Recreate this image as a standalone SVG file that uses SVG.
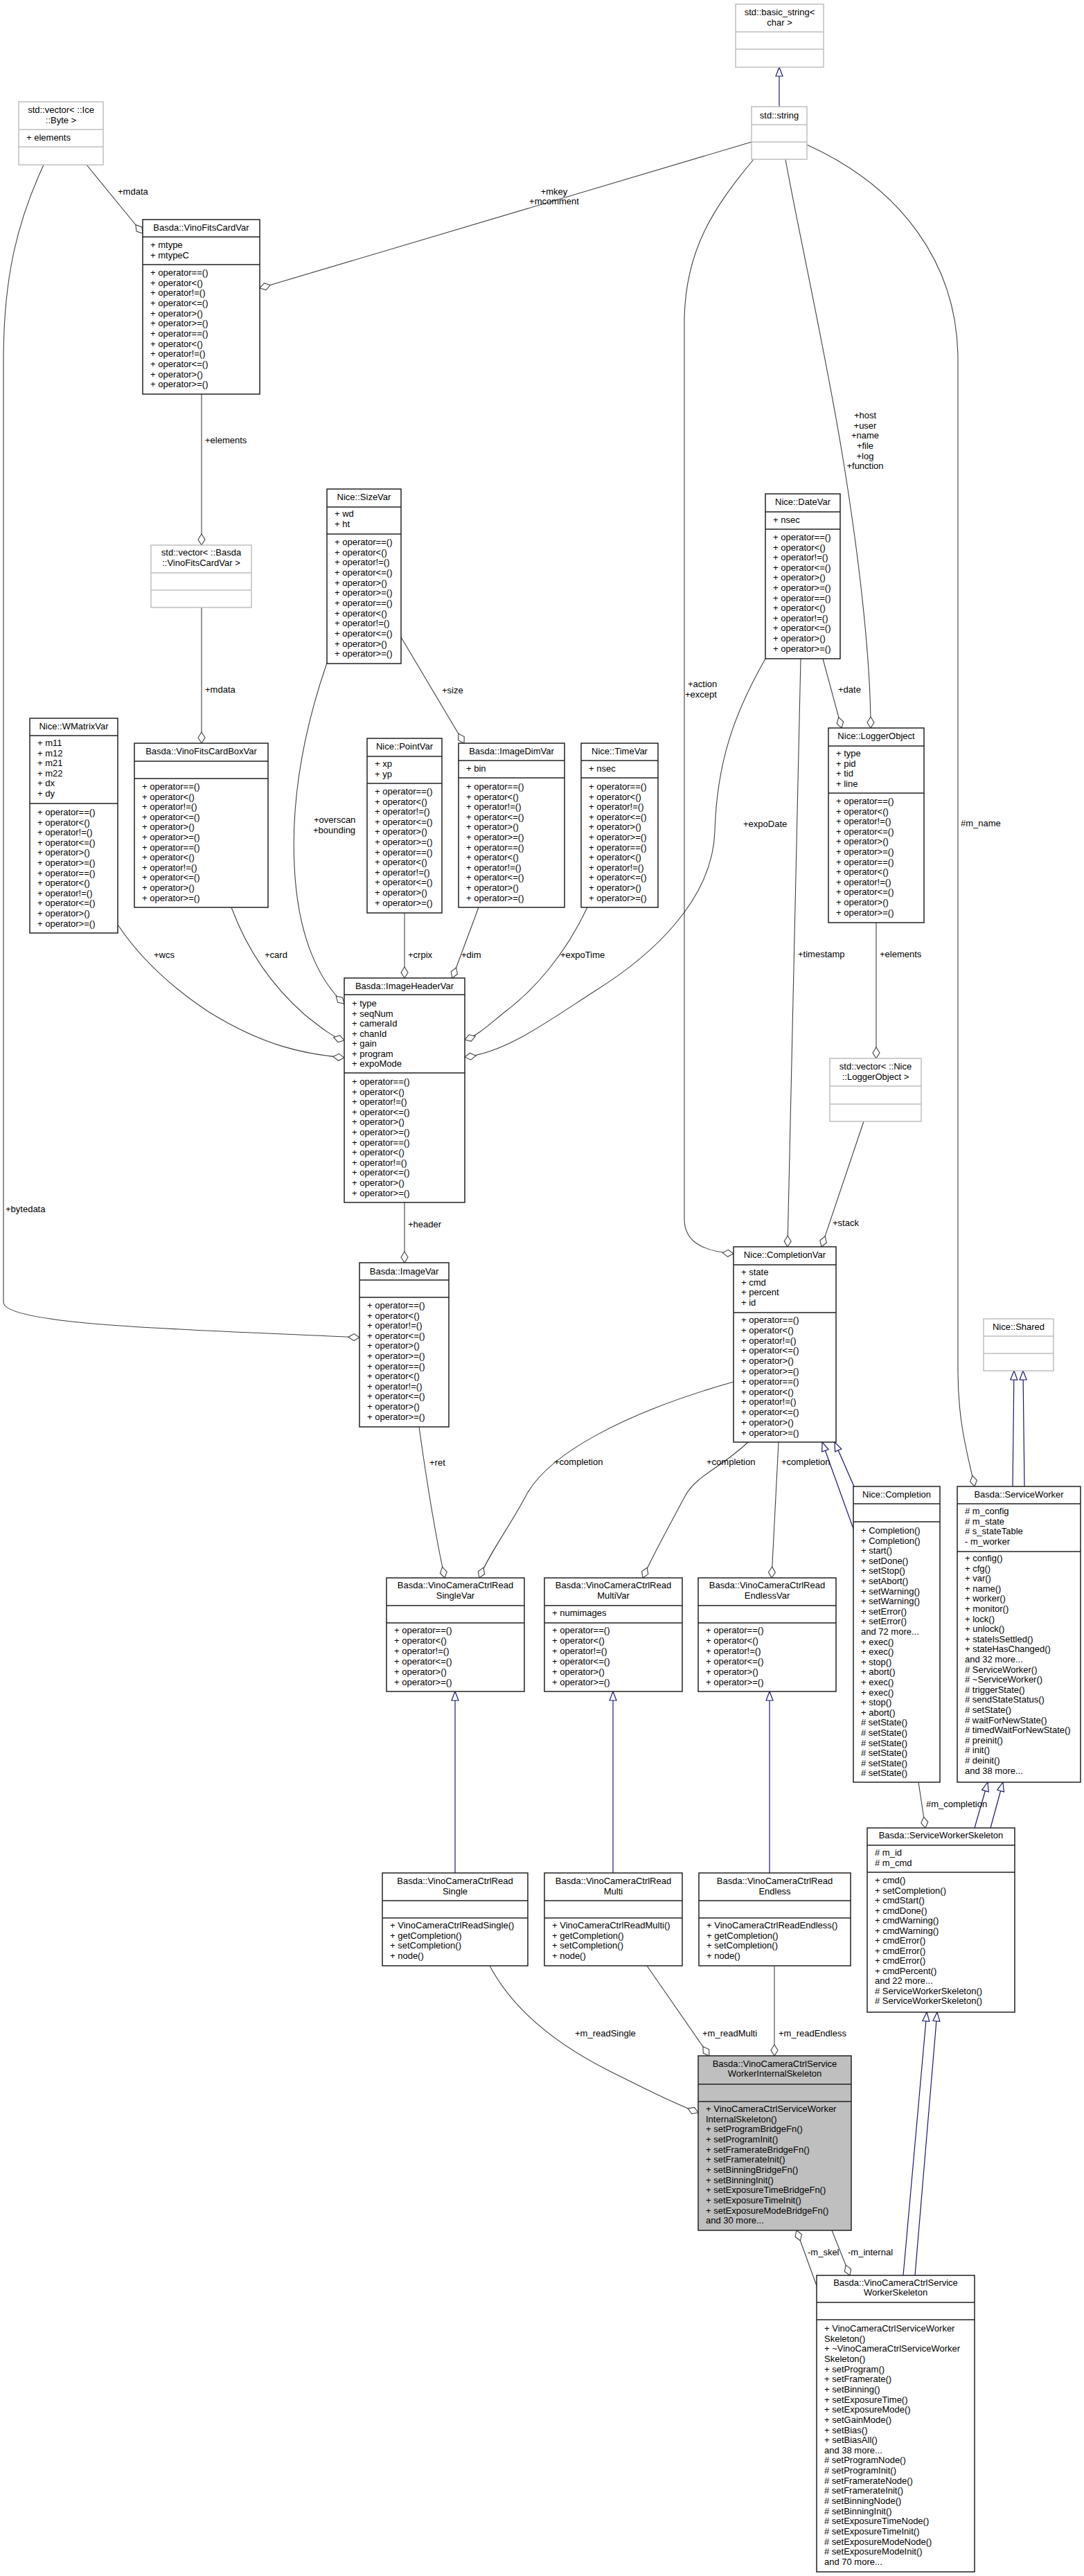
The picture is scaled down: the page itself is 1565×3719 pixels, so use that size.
<svg xmlns="http://www.w3.org/2000/svg" width="1565" height="3719" viewBox="0 0 1565 3719">
<style>
text{font-family:"Liberation Sans",Arial,sans-serif;font-size:13px;fill:#000}
.t{text-anchor:middle}
.n rect{fill:#fff;stroke:#222;stroke-width:1.5}
.n path{fill:none;stroke:#222;stroke-width:1.5}
.g rect{fill:#fff;stroke:#bfbfbf;stroke-width:1.5}
.g path{fill:none;stroke:#bfbfbf;stroke-width:1.5}
.hl rect{fill:#bfbfbf}
.e{fill:none;stroke:#404040;stroke-width:1.1;marker-end:url(#dia)}
.i{fill:none;stroke:#191970;stroke-width:1.2;marker-end:url(#tri)}
.lb text{font-size:13px}
</style>
<defs>
<marker id="dia" viewBox="-1 -7 18 14" markerWidth="18" markerHeight="14" refX="16" refY="0" orient="auto" markerUnits="userSpaceOnUse"><path d="M0,0 L8,-5 L16,0 L8,5 Z" fill="#fff" stroke="#404040" stroke-width="1.1"/></marker>
<marker id="tri" viewBox="-1 -7 16 14" markerWidth="16" markerHeight="14" refX="13" refY="0" orient="auto" markerUnits="userSpaceOnUse"><path d="M0,-5 L13,0 L0,5 Z" fill="#fff" stroke="#191970" stroke-width="1.2"/></marker>
</defs>
<rect width="1565" height="3719" fill="#fff"/>

<g id="edges">
<path class="i" d="M1125,154 L1125,97"/>
<path class="e" d="M1085,205 L375,416"/>
<path class="e" d="M1088,230 C1030,300 990,360 988,460 L988,1760 C988,1790 1010,1806 1059,1810"/>
<path class="e" d="M1134,230 C1150,320 1190,500 1215,650 C1240,800 1257,950 1257,1051"/>
<path class="e" d="M1165,209 C1300,270 1383,380 1383,520 L1383,1980 C1383,2060 1400,2110 1407,2146"/>
<path class="e" d="M125,238 L206,337"/>
<path class="e" d="M63,238 C25,320 5,400 5,520 L5,1880 C5,1915 300,1920 519,1931"/>
<path class="e" d="M291,569 L291,787"/>
<path class="e" d="M291,877 L291,1073"/>
<path class="e" d="M472,957 C440,1050 420,1150 425,1250 C430,1360 465,1420 497,1449"/>
<path class="e" d="M579,920 L670,1073"/>
<path class="e" d="M584,1318 L584,1412"/>
<path class="e" d="M691,1310 L653,1412"/>
<path class="e" d="M848,1310 C815,1380 770,1430 730,1460 C705,1480 690,1495 671,1501"/>
<path class="e" d="M1105,951 C1060,1030 1035,1100 1032,1200 C1029,1300 940,1380 860,1430 C790,1475 730,1520 671,1526"/>
<path class="e" d="M170,1335 C200,1380 240,1420 300,1460 C380,1510 440,1522 497,1527"/>
<path class="e" d="M334,1310 C360,1380 400,1430 440,1465 C465,1485 480,1497 497,1502"/>
<path class="e" d="M1188,951 L1215,1051"/>
<path class="e" d="M1156,951 L1137,1800"/>
<path class="e" d="M1265,1332 L1265,1528"/>
<path class="e" d="M1247,1619 L1186,1800"/>
<path class="e" d="M584,1736 L584,1823"/>
<path class="e" d="M605,2060 C612,2110 625,2200 642,2278"/>
<path class="e" d="M1059,1995 C900,2040 790,2100 759,2160 C735,2205 705,2245 692,2278"/>
<path class="e" d="M1080,2082 C1040,2120 1005,2130 989,2160 C965,2205 940,2250 928,2278"/>
<path class="e" d="M1124,2082 L1114,2278"/>
<path class="i" d="M1233,2146 L1205,2082"/>
<path class="i" d="M1232,2207 L1187,2082"/>
<path class="i" d="M1462,2146 L1464,1979"/>
<path class="i" d="M1479,2146 L1477,1979"/>
<path class="e" d="M1326,2573 L1336,2639"/>
<path class="i" d="M1407,2639 L1426,2573"/>
<path class="i" d="M1430,2639 L1448,2573"/>
<path class="i" d="M657,2704 L657,2442"/>
<path class="i" d="M885,2704 L885,2442"/>
<path class="i" d="M1111,2704 L1111,2442"/>
<path class="e" d="M707,2838 C740,2900 800,2950 880,2990 C930,3015 970,3035 1008,3050"/>
<path class="e" d="M934,2838 L1024,2968"/>
<path class="e" d="M1118,2838 L1118,2968"/>
<path class="e" d="M1201,3220 L1227,3285"/>
<path class="e" d="M1179,3300 L1150,3220"/>
<path class="i" d="M1304,3285 L1338,2905"/>
<path class="i" d="M1321,3285 L1353,2905"/>
</g>

<g id="labels" class="lb">
<text class="t" x="800" y="281">+mkey</text>
<text class="t" x="800" y="295">+mcomment</text>
<text x="170" y="281">+mdata</text>
<text x="296" y="640">+elements</text>
<text x="296" y="1000">+mdata</text>
<text x="638" y="1001">+size</text>
<text x="453" y="1188">+overscan</text>
<text x="452" y="1203">+bounding</text>
<text x="222" y="1383">+wcs</text>
<text x="382" y="1383">+card</text>
<text x="589" y="1383">+crpix</text>
<text x="666" y="1383">+dim</text>
<text x="809" y="1383">+expoTime</text>
<text x="8" y="1750">+bytedata</text>
<text x="993" y="992">+action</text>
<text x="989" y="1007">+except</text>
<text class="t" x="1249" y="604">+host</text>
<text class="t" x="1249" y="619">+user</text>
<text class="t" x="1249" y="633">+name</text>
<text class="t" x="1249" y="648">+file</text>
<text class="t" x="1249" y="663">+log</text>
<text class="t" x="1249" y="677">+function</text>
<text x="1210" y="1000">+date</text>
<text x="1073" y="1194">+expoDate</text>
<text x="1152" y="1382">+timestamp</text>
<text x="1270" y="1382">+elements</text>
<text x="1387" y="1193">#m_name</text>
<text x="1202" y="1770">+stack</text>
<text x="589" y="1772">+header</text>
<text x="620" y="2116">+ret</text>
<text x="800" y="2115">+completion</text>
<text x="1020" y="2115">+completion</text>
<text x="1128" y="2115">+completion</text>
<text x="1337" y="2609">#m_completion</text>
<text x="830" y="2940">+m_readSingle</text>
<text x="1014" y="2940">+m_readMulti</text>
<text x="1124" y="2940">+m_readEndless</text>
<text x="1166" y="3256">-m_skel</text>
<text x="1224" y="3256">-m_internal</text>
</g>

<g id="n_basic_string" class="g">
<rect x="1062" y="6" width="127" height="91"/>
<path d="M1062,46H1189M1062,71H1189"/>
<text class="t" x="1125.5" y="22">std::basic_string&lt;</text>
<text class="t" x="1125.5" y="37">char &gt;</text>
</g>

<g id="n_string" class="g">
<rect x="1085" y="154" width="80" height="76"/>
<path d="M1085,180H1165M1085,205H1165"/>
<text class="t" x="1125" y="171">std::string</text>
</g>

<g id="n_vector_byte" class="g">
<rect x="27" y="147" width="122" height="91"/>
<path d="M27,187H149M27,212H149"/>
<text class="t" x="88" y="163">std::vector&lt; ::Ice</text>
<text class="t" x="88" y="178">::Byte &gt;</text>
<text x="38" y="203">+ elements</text>
</g>

<g id="n_fitscardvar" class="n">
<rect x="206" y="317" width="169" height="252"/>
<path d="M206,342H375M206,382H375"/>
<text class="t" x="290.5" y="333">Basda::VinoFitsCardVar</text>
<text x="217" y="358"><tspan x="217">+ mtype</tspan><tspan x="217" dy="14.67">+ mtypeC</tspan></text>
<text x="217" y="398"><tspan x="217">+ operator==()</tspan><tspan x="217" dy="14.67">+ operator&lt;()</tspan><tspan x="217" dy="14.67">+ operator!=()</tspan><tspan x="217" dy="14.67">+ operator&lt;=()</tspan><tspan x="217" dy="14.67">+ operator&gt;()</tspan><tspan x="217" dy="14.67">+ operator&gt;=()</tspan><tspan x="217" dy="14.67">+ operator==()</tspan><tspan x="217" dy="14.67">+ operator&lt;()</tspan><tspan x="217" dy="14.67">+ operator!=()</tspan><tspan x="217" dy="14.67">+ operator&lt;=()</tspan><tspan x="217" dy="14.67">+ operator&gt;()</tspan><tspan x="217" dy="14.67">+ operator&gt;=()</tspan></text>
</g>

<g id="n_vector_fitscard" class="g">
<rect x="218" y="787" width="145" height="90"/>
<path d="M218,827H363M218,852H363"/>
<text class="t" x="290.5" y="802">std::vector&lt; ::Basda</text>
<text class="t" x="290.5" y="817">::VinoFitsCardVar &gt;</text>
</g>

<g id="n_sizevar" class="n">
<rect x="472" y="706" width="107" height="252"/>
<path d="M472,732H579M472,771H579"/>
<text class="t" x="525.5" y="722">Nice::SizeVar</text>
<text x="483" y="746"><tspan x="483">+ wd</tspan><tspan x="483" dy="14.67">+ ht</tspan></text>
<text x="483" y="787"><tspan x="483">+ operator==()</tspan><tspan x="483" dy="14.67">+ operator&lt;()</tspan><tspan x="483" dy="14.67">+ operator!=()</tspan><tspan x="483" dy="14.67">+ operator&lt;=()</tspan><tspan x="483" dy="14.67">+ operator&gt;()</tspan><tspan x="483" dy="14.67">+ operator&gt;=()</tspan><tspan x="483" dy="14.67">+ operator==()</tspan><tspan x="483" dy="14.67">+ operator&lt;()</tspan><tspan x="483" dy="14.67">+ operator!=()</tspan><tspan x="483" dy="14.67">+ operator&lt;=()</tspan><tspan x="483" dy="14.67">+ operator&gt;()</tspan><tspan x="483" dy="14.67">+ operator&gt;=()</tspan></text>
</g>

<g id="n_datevar" class="n">
<rect x="1105" y="713" width="108" height="238"/>
<path d="M1105,739H1213M1105,764H1213"/>
<text class="t" x="1159" y="729">Nice::DateVar</text>
<text x="1116" y="755">+ nsec</text>
<text x="1116" y="780"><tspan x="1116">+ operator==()</tspan><tspan x="1116" dy="14.6">+ operator&lt;()</tspan><tspan x="1116" dy="14.6">+ operator!=()</tspan><tspan x="1116" dy="14.6">+ operator&lt;=()</tspan><tspan x="1116" dy="14.6">+ operator&gt;()</tspan><tspan x="1116" dy="14.6">+ operator&gt;=()</tspan><tspan x="1116" dy="14.6">+ operator==()</tspan><tspan x="1116" dy="14.6">+ operator&lt;()</tspan><tspan x="1116" dy="14.6">+ operator!=()</tspan><tspan x="1116" dy="14.6">+ operator&lt;=()</tspan><tspan x="1116" dy="14.6">+ operator&gt;()</tspan><tspan x="1116" dy="14.6">+ operator&gt;=()</tspan></text>
</g>

<g id="n_wmatrixvar" class="n">
<rect x="43" y="1037" width="127" height="310"/>
<path d="M43,1062H170M43,1160H170"/>
<text class="t" x="106.5" y="1053">Nice::WMatrixVar</text>
<text x="54" y="1077"><tspan x="54">+ m11</tspan><tspan x="54" dy="14.6">+ m12</tspan><tspan x="54" dy="14.6">+ m21</tspan><tspan x="54" dy="14.6">+ m22</tspan><tspan x="54" dy="14.6">+ dx</tspan><tspan x="54" dy="14.6">+ dy</tspan></text>
<text x="54" y="1177"><tspan x="54">+ operator==()</tspan><tspan x="54" dy="14.6">+ operator&lt;()</tspan><tspan x="54" dy="14.6">+ operator!=()</tspan><tspan x="54" dy="14.6">+ operator&lt;=()</tspan><tspan x="54" dy="14.6">+ operator&gt;()</tspan><tspan x="54" dy="14.6">+ operator&gt;=()</tspan><tspan x="54" dy="14.6">+ operator==()</tspan><tspan x="54" dy="14.6">+ operator&lt;()</tspan><tspan x="54" dy="14.6">+ operator!=()</tspan><tspan x="54" dy="14.6">+ operator&lt;=()</tspan><tspan x="54" dy="14.6">+ operator&gt;()</tspan><tspan x="54" dy="14.6">+ operator&gt;=()</tspan></text>
</g>

<g id="n_fitscardboxvar" class="n">
<rect x="194" y="1073" width="193" height="237"/>
<path d="M194,1099H387M194,1124H387"/>
<text class="t" x="290.5" y="1089">Basda::VinoFitsCardBoxVar</text>
<text x="205" y="1140"><tspan x="205">+ operator==()</tspan><tspan x="205" dy="14.6">+ operator&lt;()</tspan><tspan x="205" dy="14.6">+ operator!=()</tspan><tspan x="205" dy="14.6">+ operator&lt;=()</tspan><tspan x="205" dy="14.6">+ operator&gt;()</tspan><tspan x="205" dy="14.6">+ operator&gt;=()</tspan><tspan x="205" dy="14.6">+ operator==()</tspan><tspan x="205" dy="14.6">+ operator&lt;()</tspan><tspan x="205" dy="14.6">+ operator!=()</tspan><tspan x="205" dy="14.6">+ operator&lt;=()</tspan><tspan x="205" dy="14.6">+ operator&gt;()</tspan><tspan x="205" dy="14.6">+ operator&gt;=()</tspan></text>
</g>

<g id="n_pointvar" class="n">
<rect x="530" y="1066" width="108" height="252"/>
<path d="M530,1092H638M530,1131H638"/>
<text class="t" x="584" y="1082">Nice::PointVar</text>
<text x="541" y="1107"><tspan x="541">+ xp</tspan><tspan x="541" dy="14.67">+ yp</tspan></text>
<text x="541" y="1147"><tspan x="541">+ operator==()</tspan><tspan x="541" dy="14.6">+ operator&lt;()</tspan><tspan x="541" dy="14.6">+ operator!=()</tspan><tspan x="541" dy="14.6">+ operator&lt;=()</tspan><tspan x="541" dy="14.6">+ operator&gt;()</tspan><tspan x="541" dy="14.6">+ operator&gt;=()</tspan><tspan x="541" dy="14.6">+ operator==()</tspan><tspan x="541" dy="14.6">+ operator&lt;()</tspan><tspan x="541" dy="14.6">+ operator!=()</tspan><tspan x="541" dy="14.6">+ operator&lt;=()</tspan><tspan x="541" dy="14.6">+ operator&gt;()</tspan><tspan x="541" dy="14.6">+ operator&gt;=()</tspan></text>
</g>

<g id="n_imagedimvar" class="n">
<rect x="662" y="1073" width="153" height="237"/>
<path d="M662,1098H815M662,1123H815"/>
<text class="t" x="738.5" y="1089">Basda::ImageDimVar</text>
<text x="673" y="1114">+ bin</text>
<text x="673" y="1140"><tspan x="673">+ operator==()</tspan><tspan x="673" dy="14.6">+ operator&lt;()</tspan><tspan x="673" dy="14.6">+ operator!=()</tspan><tspan x="673" dy="14.6">+ operator&lt;=()</tspan><tspan x="673" dy="14.6">+ operator&gt;()</tspan><tspan x="673" dy="14.6">+ operator&gt;=()</tspan><tspan x="673" dy="14.6">+ operator==()</tspan><tspan x="673" dy="14.6">+ operator&lt;()</tspan><tspan x="673" dy="14.6">+ operator!=()</tspan><tspan x="673" dy="14.6">+ operator&lt;=()</tspan><tspan x="673" dy="14.6">+ operator&gt;()</tspan><tspan x="673" dy="14.6">+ operator&gt;=()</tspan></text>
</g>

<g id="n_timevar" class="n">
<rect x="839" y="1073" width="111" height="237"/>
<path d="M839,1098H950M839,1123H950"/>
<text class="t" x="894.5" y="1089">Nice::TimeVar</text>
<text x="850" y="1114">+ nsec</text>
<text x="850" y="1140"><tspan x="850">+ operator==()</tspan><tspan x="850" dy="14.6">+ operator&lt;()</tspan><tspan x="850" dy="14.6">+ operator!=()</tspan><tspan x="850" dy="14.6">+ operator&lt;=()</tspan><tspan x="850" dy="14.6">+ operator&gt;()</tspan><tspan x="850" dy="14.6">+ operator&gt;=()</tspan><tspan x="850" dy="14.6">+ operator==()</tspan><tspan x="850" dy="14.6">+ operator&lt;()</tspan><tspan x="850" dy="14.6">+ operator!=()</tspan><tspan x="850" dy="14.6">+ operator&lt;=()</tspan><tspan x="850" dy="14.6">+ operator&gt;()</tspan><tspan x="850" dy="14.6">+ operator&gt;=()</tspan></text>
</g>

<g id="n_loggerobject" class="n">
<rect x="1196" y="1051" width="138" height="281"/>
<path d="M1196,1077H1334M1196,1145H1334"/>
<text class="t" x="1265" y="1067">Nice::LoggerObject</text>
<text x="1207" y="1092"><tspan x="1207">+ type</tspan><tspan x="1207" dy="14.6">+ pid</tspan><tspan x="1207" dy="14.6">+ tid</tspan><tspan x="1207" dy="14.6">+ line</tspan></text>
<text x="1207" y="1161"><tspan x="1207">+ operator==()</tspan><tspan x="1207" dy="14.6">+ operator&lt;()</tspan><tspan x="1207" dy="14.6">+ operator!=()</tspan><tspan x="1207" dy="14.6">+ operator&lt;=()</tspan><tspan x="1207" dy="14.6">+ operator&gt;()</tspan><tspan x="1207" dy="14.6">+ operator&gt;=()</tspan><tspan x="1207" dy="14.6">+ operator==()</tspan><tspan x="1207" dy="14.6">+ operator&lt;()</tspan><tspan x="1207" dy="14.6">+ operator!=()</tspan><tspan x="1207" dy="14.6">+ operator&lt;=()</tspan><tspan x="1207" dy="14.6">+ operator&gt;()</tspan><tspan x="1207" dy="14.6">+ operator&gt;=()</tspan></text>
</g>

<g id="n_imageheadervar" class="n">
<rect x="497" y="1412" width="174" height="324"/>
<path d="M497,1436H671M497,1549H671"/>
<text class="t" x="584" y="1428">Basda::ImageHeaderVar</text>
<text x="508" y="1453"><tspan x="508">+ type</tspan><tspan x="508" dy="14.5">+ seqNum</tspan><tspan x="508" dy="14.5">+ cameraId</tspan><tspan x="508" dy="14.5">+ chanId</tspan><tspan x="508" dy="14.5">+ gain</tspan><tspan x="508" dy="14.5">+ program</tspan><tspan x="508" dy="14.5">+ expoMode</tspan></text>
<text x="508" y="1566"><tspan x="508">+ operator==()</tspan><tspan x="508" dy="14.6">+ operator&lt;()</tspan><tspan x="508" dy="14.6">+ operator!=()</tspan><tspan x="508" dy="14.6">+ operator&lt;=()</tspan><tspan x="508" dy="14.6">+ operator&gt;()</tspan><tspan x="508" dy="14.6">+ operator&gt;=()</tspan><tspan x="508" dy="14.6">+ operator==()</tspan><tspan x="508" dy="14.6">+ operator&lt;()</tspan><tspan x="508" dy="14.6">+ operator!=()</tspan><tspan x="508" dy="14.6">+ operator&lt;=()</tspan><tspan x="508" dy="14.6">+ operator&gt;()</tspan><tspan x="508" dy="14.6">+ operator&gt;=()</tspan></text>
</g>

<g id="n_vector_logger" class="g">
<rect x="1198" y="1528" width="132" height="91"/>
<path d="M1198,1568H1330M1198,1594H1330"/>
<text class="t" x="1264" y="1544">std::vector&lt; ::Nice</text>
<text class="t" x="1264" y="1559">::LoggerObject &gt;</text>
</g>

<g id="n_imagevar" class="n">
<rect x="519" y="1823" width="129" height="237"/>
<path d="M519,1848H648M519,1873H648"/>
<text class="t" x="583.5" y="1840">Basda::ImageVar</text>
<text x="530" y="1889"><tspan x="530">+ operator==()</tspan><tspan x="530" dy="14.6">+ operator&lt;()</tspan><tspan x="530" dy="14.6">+ operator!=()</tspan><tspan x="530" dy="14.6">+ operator&lt;=()</tspan><tspan x="530" dy="14.6">+ operator&gt;()</tspan><tspan x="530" dy="14.6">+ operator&gt;=()</tspan><tspan x="530" dy="14.6">+ operator==()</tspan><tspan x="530" dy="14.6">+ operator&lt;()</tspan><tspan x="530" dy="14.6">+ operator!=()</tspan><tspan x="530" dy="14.6">+ operator&lt;=()</tspan><tspan x="530" dy="14.6">+ operator&gt;()</tspan><tspan x="530" dy="14.6">+ operator&gt;=()</tspan></text>
</g>

<g id="n_completionvar" class="n">
<rect x="1059" y="1800" width="148" height="282"/>
<path d="M1059,1826H1207M1059,1895H1207"/>
<text class="t" x="1133" y="1816">Nice::CompletionVar</text>
<text x="1070" y="1841"><tspan x="1070">+ state</tspan><tspan x="1070" dy="14.6">+ cmd</tspan><tspan x="1070" dy="14.6">+ percent</tspan><tspan x="1070" dy="14.6">+ id</tspan></text>
<text x="1070" y="1910"><tspan x="1070">+ operator==()</tspan><tspan x="1070" dy="14.8">+ operator&lt;()</tspan><tspan x="1070" dy="14.8">+ operator!=()</tspan><tspan x="1070" dy="14.8">+ operator&lt;=()</tspan><tspan x="1070" dy="14.8">+ operator&gt;()</tspan><tspan x="1070" dy="14.8">+ operator&gt;=()</tspan><tspan x="1070" dy="14.8">+ operator==()</tspan><tspan x="1070" dy="14.8">+ operator&lt;()</tspan><tspan x="1070" dy="14.8">+ operator!=()</tspan><tspan x="1070" dy="14.8">+ operator&lt;=()</tspan><tspan x="1070" dy="14.8">+ operator&gt;()</tspan><tspan x="1070" dy="14.8">+ operator&gt;=()</tspan></text>
</g>

<g id="n_shared" class="g">
<rect x="1420" y="1904" width="101" height="75"/>
<path d="M1420,1929H1521M1420,1954H1521"/>
<text class="t" x="1470.5" y="1920">Nice::Shared</text>
</g>

<g id="n_completion" class="n">
<rect x="1232" y="2146" width="125" height="427"/>
<path d="M1232,2171H1357M1232,2197H1357"/>
<text class="t" x="1294.5" y="2162">Nice::Completion</text>
<text x="1243" y="2214"><tspan x="1243">+ Completion()</tspan><tspan x="1243" dy="14.6">+ Completion()</tspan><tspan x="1243" dy="14.6">+ start()</tspan><tspan x="1243" dy="14.6">+ setDone()</tspan><tspan x="1243" dy="14.6">+ setStop()</tspan><tspan x="1243" dy="14.6">+ setAbort()</tspan><tspan x="1243" dy="14.6">+ setWarning()</tspan><tspan x="1243" dy="14.6">+ setWarning()</tspan><tspan x="1243" dy="14.6">+ setError()</tspan><tspan x="1243" dy="14.6">+ setError()</tspan><tspan x="1243" dy="14.6">and 72 more...</tspan><tspan x="1243" dy="14.6">+ exec()</tspan><tspan x="1243" dy="14.6">+ exec()</tspan><tspan x="1243" dy="14.6">+ stop()</tspan><tspan x="1243" dy="14.6">+ abort()</tspan><tspan x="1243" dy="14.6">+ exec()</tspan><tspan x="1243" dy="14.6">+ exec()</tspan><tspan x="1243" dy="14.6">+ stop()</tspan><tspan x="1243" dy="14.6">+ abort()</tspan><tspan x="1243" dy="14.6"># setState()</tspan><tspan x="1243" dy="14.6"># setState()</tspan><tspan x="1243" dy="14.6"># setState()</tspan><tspan x="1243" dy="14.6"># setState()</tspan><tspan x="1243" dy="14.6"># setState()</tspan><tspan x="1243" dy="14.6"># setState()</tspan></text>
</g>

<g id="n_serviceworker" class="n">
<rect x="1382" y="2146" width="178" height="427"/>
<path d="M1382,2171H1560M1382,2240H1560"/>
<text class="t" x="1471" y="2162">Basda::ServiceWorker</text>
<text x="1393" y="2186"><tspan x="1393"># m_config</tspan><tspan x="1393" dy="14.6"># m_state</tspan><tspan x="1393" dy="14.6"># s_stateTable</tspan><tspan x="1393" dy="14.6">- m_worker</tspan></text>
<text x="1393" y="2254"><tspan x="1393">+ config()</tspan><tspan x="1393" dy="14.6">+ cfg()</tspan><tspan x="1393" dy="14.6">+ var()</tspan><tspan x="1393" dy="14.6">+ name()</tspan><tspan x="1393" dy="14.6">+ worker()</tspan><tspan x="1393" dy="14.6">+ monitor()</tspan><tspan x="1393" dy="14.6">+ lock()</tspan><tspan x="1393" dy="14.6">+ unlock()</tspan><tspan x="1393" dy="14.6">+ stateIsSettled()</tspan><tspan x="1393" dy="14.6">+ stateHasChanged()</tspan><tspan x="1393" dy="14.6">and 32 more...</tspan><tspan x="1393" dy="14.6"># ServiceWorker()</tspan><tspan x="1393" dy="14.6"># ~ServiceWorker()</tspan><tspan x="1393" dy="14.6"># triggerState()</tspan><tspan x="1393" dy="14.6"># sendStateStatus()</tspan><tspan x="1393" dy="14.6"># setState()</tspan><tspan x="1393" dy="14.6"># waitForNewState()</tspan><tspan x="1393" dy="14.6"># timedWaitForNewState()</tspan><tspan x="1393" dy="14.6"># preinit()</tspan><tspan x="1393" dy="14.6"># init()</tspan><tspan x="1393" dy="14.6"># deinit()</tspan><tspan x="1393" dy="14.6">and 38 more...</tspan></text>
</g>

<g id="n_readsinglevar" class="n">
<rect x="558" y="2278" width="199" height="164"/>
<path d="M558,2318H757M558,2343H757"/>
<text class="t" x="657.5" y="2293">Basda::VinoCameraCtrlRead</text>
<text class="t" x="657.5" y="2308">SingleVar</text>
<text x="569" y="2358"><tspan x="569">+ operator==()</tspan><tspan x="569" dy="14.9">+ operator&lt;()</tspan><tspan x="569" dy="14.9">+ operator!=()</tspan><tspan x="569" dy="14.9">+ operator&lt;=()</tspan><tspan x="569" dy="14.9">+ operator&gt;()</tspan><tspan x="569" dy="14.9">+ operator&gt;=()</tspan></text>
</g>

<g id="n_readmultivar" class="n">
<rect x="786" y="2278" width="199" height="164"/>
<path d="M786,2318H985M786,2343H985"/>
<text class="t" x="885.5" y="2293">Basda::VinoCameraCtrlRead</text>
<text class="t" x="885.5" y="2308">MultiVar</text>
<text x="797" y="2333">+ numimages</text>
<text x="797" y="2358"><tspan x="797">+ operator==()</tspan><tspan x="797" dy="14.9">+ operator&lt;()</tspan><tspan x="797" dy="14.9">+ operator!=()</tspan><tspan x="797" dy="14.9">+ operator&lt;=()</tspan><tspan x="797" dy="14.9">+ operator&gt;()</tspan><tspan x="797" dy="14.9">+ operator&gt;=()</tspan></text>
</g>

<g id="n_readendlessvar" class="n">
<rect x="1008" y="2278" width="199" height="164"/>
<path d="M1008,2318H1207M1008,2343H1207"/>
<text class="t" x="1107.5" y="2293">Basda::VinoCameraCtrlRead</text>
<text class="t" x="1107.5" y="2308">EndlessVar</text>
<text x="1019" y="2358"><tspan x="1019">+ operator==()</tspan><tspan x="1019" dy="14.9">+ operator&lt;()</tspan><tspan x="1019" dy="14.9">+ operator!=()</tspan><tspan x="1019" dy="14.9">+ operator&lt;=()</tspan><tspan x="1019" dy="14.9">+ operator&gt;()</tspan><tspan x="1019" dy="14.9">+ operator&gt;=()</tspan></text>
</g>

<g id="n_serviceworkerskeleton" class="n">
<rect x="1252" y="2639" width="213" height="266"/>
<path d="M1252,2664H1465M1252,2703H1465"/>
<text class="t" x="1358.5" y="2654">Basda::ServiceWorkerSkeleton</text>
<text x="1263" y="2679"><tspan x="1263"># m_id</tspan><tspan x="1263" dy="14.6"># m_cmd</tspan></text>
<text x="1263" y="2719"><tspan x="1263">+ cmd()</tspan><tspan x="1263" dy="14.5">+ setCompletion()</tspan><tspan x="1263" dy="14.5">+ cmdStart()</tspan><tspan x="1263" dy="14.5">+ cmdDone()</tspan><tspan x="1263" dy="14.5">+ cmdWarning()</tspan><tspan x="1263" dy="14.5">+ cmdWarning()</tspan><tspan x="1263" dy="14.5">+ cmdError()</tspan><tspan x="1263" dy="14.5">+ cmdError()</tspan><tspan x="1263" dy="14.5">+ cmdError()</tspan><tspan x="1263" dy="14.5">+ cmdPercent()</tspan><tspan x="1263" dy="14.5">and 22 more...</tspan><tspan x="1263" dy="14.5"># ServiceWorkerSkeleton()</tspan><tspan x="1263" dy="14.5"># ServiceWorkerSkeleton()</tspan></text>
</g>

<g id="n_readsingle" class="n">
<rect x="552" y="2704" width="210" height="134"/>
<path d="M552,2744H762M552,2769H762"/>
<text class="t" x="657" y="2720">Basda::VinoCameraCtrlRead</text>
<text class="t" x="657" y="2735">Single</text>
<text x="563" y="2784"><tspan x="563">+ VinoCameraCtrlReadSingle()</tspan><tspan x="563" dy="14.7">+ getCompletion()</tspan><tspan x="563" dy="14.7">+ setCompletion()</tspan><tspan x="563" dy="14.7">+ node()</tspan></text>
</g>

<g id="n_readmulti" class="n">
<rect x="786" y="2704" width="199" height="134"/>
<path d="M786,2744H985M786,2769H985"/>
<text class="t" x="885.5" y="2720">Basda::VinoCameraCtrlRead</text>
<text class="t" x="885.5" y="2735">Multi</text>
<text x="797" y="2784"><tspan x="797">+ VinoCameraCtrlReadMulti()</tspan><tspan x="797" dy="14.7">+ getCompletion()</tspan><tspan x="797" dy="14.7">+ setCompletion()</tspan><tspan x="797" dy="14.7">+ node()</tspan></text>
</g>

<g id="n_readendless" class="n">
<rect x="1009" y="2704" width="219" height="134"/>
<path d="M1009,2744H1228M1009,2769H1228"/>
<text class="t" x="1118.5" y="2720">Basda::VinoCameraCtrlRead</text>
<text class="t" x="1118.5" y="2735">Endless</text>
<text x="1020" y="2784"><tspan x="1020">+ VinoCameraCtrlReadEndless()</tspan><tspan x="1020" dy="14.7">+ getCompletion()</tspan><tspan x="1020" dy="14.7">+ setCompletion()</tspan><tspan x="1020" dy="14.7">+ node()</tspan></text>
</g>

<g id="n_internalskeleton" class="n hl">
<rect x="1008" y="2968" width="221" height="252"/>
<path d="M1008,3009H1229M1008,3034H1229"/>
<text class="t" x="1118.5" y="2984">Basda::VinoCameraCtrlService</text>
<text class="t" x="1118.5" y="2998">WorkerInternalSkeleton</text>
<text x="1019" y="3049"><tspan x="1019">+ VinoCameraCtrlServiceWorker</tspan><tspan x="1019" dy="14.65">InternalSkeleton()</tspan><tspan x="1019" dy="14.65">+ setProgramBridgeFn()</tspan><tspan x="1019" dy="14.65">+ setProgramInit()</tspan><tspan x="1019" dy="14.65">+ setFramerateBridgeFn()</tspan><tspan x="1019" dy="14.65">+ setFramerateInit()</tspan><tspan x="1019" dy="14.65">+ setBinningBridgeFn()</tspan><tspan x="1019" dy="14.65">+ setBinningInit()</tspan><tspan x="1019" dy="14.65">+ setExposureTimeBridgeFn()</tspan><tspan x="1019" dy="14.65">+ setExposureTimeInit()</tspan><tspan x="1019" dy="14.65">+ setExposureModeBridgeFn()</tspan><tspan x="1019" dy="14.65">and 30 more...</tspan></text>
</g>

<g id="n_serviceworkerskeleton_vino" class="n">
<rect x="1179" y="3285" width="228" height="428"/>
<path d="M1179,3324H1407M1179,3349H1407"/>
<text class="t" x="1293" y="3300">Basda::VinoCameraCtrlService</text>
<text class="t" x="1293" y="3314">WorkerSkeleton</text>
<text x="1190" y="3366"><tspan x="1190">+ VinoCameraCtrlServiceWorker</tspan><tspan x="1190" dy="14.65">Skeleton()</tspan><tspan x="1190" dy="14.65">+ ~VinoCameraCtrlServiceWorker</tspan><tspan x="1190" dy="14.65">Skeleton()</tspan><tspan x="1190" dy="14.65">+ setProgram()</tspan><tspan x="1190" dy="14.65">+ setFramerate()</tspan><tspan x="1190" dy="14.65">+ setBinning()</tspan><tspan x="1190" dy="14.65">+ setExposureTime()</tspan><tspan x="1190" dy="14.65">+ setExposureMode()</tspan><tspan x="1190" dy="14.65">+ setGainMode()</tspan><tspan x="1190" dy="14.65">+ setBias()</tspan><tspan x="1190" dy="14.65">+ setBiasAll()</tspan><tspan x="1190" dy="14.65">and 38 more...</tspan><tspan x="1190" dy="14.65"># setProgramNode()</tspan><tspan x="1190" dy="14.65"># setProgramInit()</tspan><tspan x="1190" dy="14.65"># setFramerateNode()</tspan><tspan x="1190" dy="14.65"># setFramerateInit()</tspan><tspan x="1190" dy="14.65"># setBinningNode()</tspan><tspan x="1190" dy="14.65"># setBinningInit()</tspan><tspan x="1190" dy="14.65"># setExposureTimeNode()</tspan><tspan x="1190" dy="14.65"># setExposureTimeInit()</tspan><tspan x="1190" dy="14.65"># setExposureModeNode()</tspan><tspan x="1190" dy="14.65"># setExposureModeInit()</tspan><tspan x="1190" dy="14.65">and 70 more...</tspan></text>
</g>
</svg>
